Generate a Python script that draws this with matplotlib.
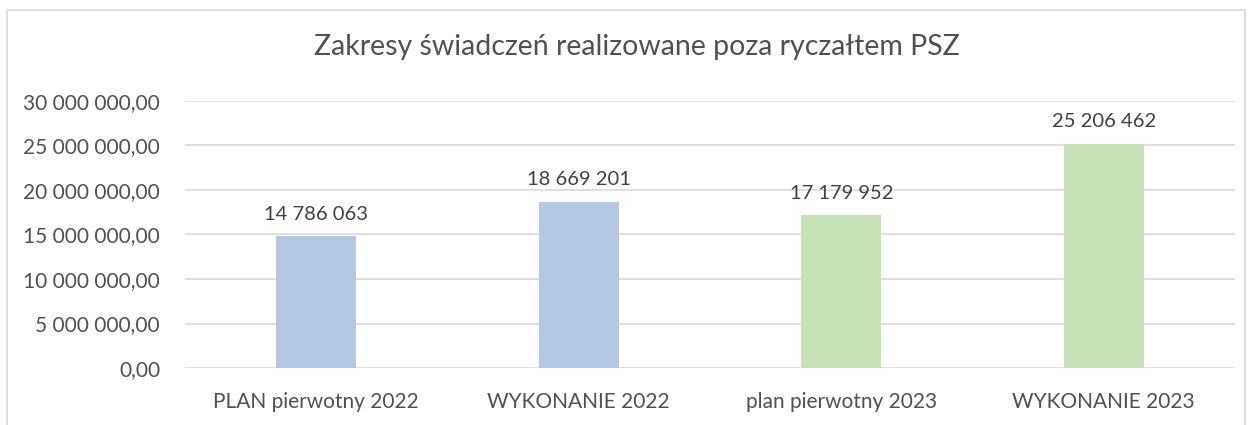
import numpy as np
import matplotlib.pyplot as plt
from matplotlib.patches import Rectangle

plt.rcParams['font.family'] = ['Lato', 'DejaVu Sans']

kategorie = ["PLAN pierwotny 2022", "WYKONANIE 2022", "plan pierwotny 2023", "WYKONANIE 2023"]
wartosci = [14786063, 18669201, 17179952, 25206462]
kolory = ["#B4C7E7", "#B4C7E7", "#C5E0B4", "#C5E0B4"]
yticks = [0, 5000000, 10000000, 15000000, 20000000, 25000000, 30000000]

txt = "#505050"

def fmt(v, dec=False):
    s = f"{v:,.2f}" if dec else f"{v:,.0f}"
    s = s.replace(",", " ").replace(".", ",")
    return s

fig = plt.figure(figsize=(12.52, 4.25), dpi=100)
fig.patches.append(Rectangle((7/1252, -0.1), 1238/1252, 1.1 - 10/425, transform=fig.transFigure,
                             fill=False, edgecolor="#D9D9D9", linewidth=1.2))
ax = fig.add_axes([185/1252, 1 - 368/425, 1050/1252, 267/425])

x = np.arange(len(kategorie))
ax.bar(x, wartosci, width=0.305, color=kolory, zorder=3)
for xi, v in zip(x, wartosci):
    ax.text(xi, v + 1500000, fmt(v), ha="center", va="bottom", fontsize=14.5, color="#404040")

ax.set_xlim(-0.5, len(kategorie) - 0.5)
ax.set_ylim(0, 30000000)
ax.set_yticks(yticks)
ax.set_yticklabels([fmt(t, True) for t in yticks], fontsize=15, color=txt)
ax.set_xticks(x)
ax.set_xticklabels(kategorie, fontsize=15, color=txt)
ax.grid(axis="y", color="#D9D9D9", linewidth=1.2, zorder=0)
ax.tick_params(length=0, pad=18)
ax.tick_params(axis="x", pad=17)
for s in ax.spines.values():
    s.set_visible(False)

fig.text(637/1252, 1 - 47/425, "Zakresy świadczeń realizowane poza ryczałtem PSZ",
         ha="center", va="center", fontsize=20.5, color=txt)

fig.savefig("out.png", dpi=100)
